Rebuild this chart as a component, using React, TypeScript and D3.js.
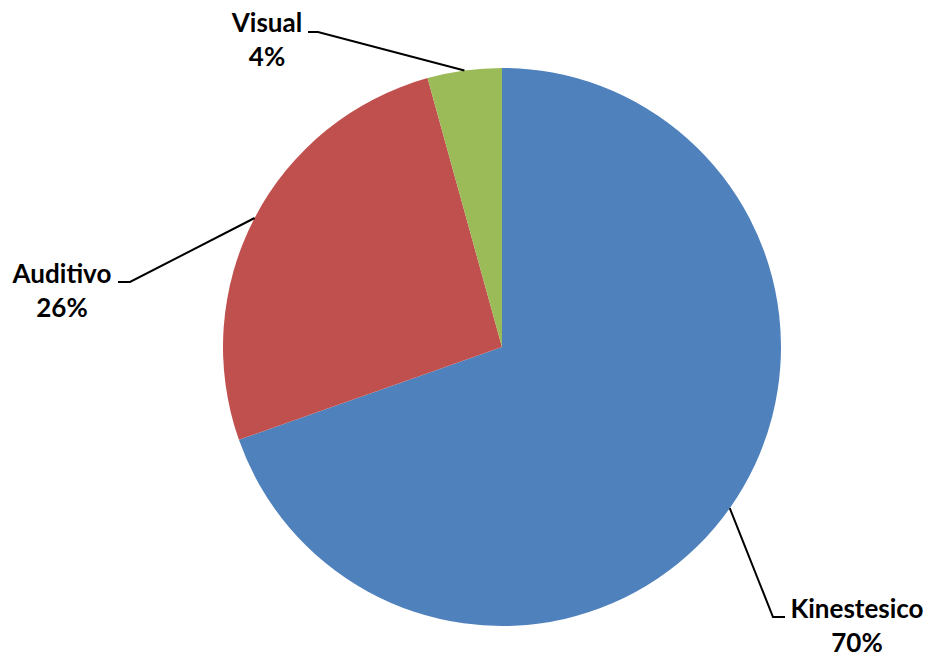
import React from "react";
import * as d3 from "d3";

const categories = ["Kinestesico", "Auditivo", "Visual"];
const values = [69.6, 26.1, 4.3];
const percentLabels = ["70%", "26%", "4%"];
const colors = ["#4F81BD", "#C0504D", "#9BBB59"];

// layout: label anchor (text center x, first baseline y) and elbow points
const labelLayout = [
  { tx: 857, ty: 618, elbow: [773, 617], end: [785, 617] },
  { tx: 62, ty: 283, elbow: [130, 282], end: [118, 282] },
  { tx: 267, ty: 32, elbow: [318, 32], end: [308, 32] },
];

const W = 930;
const H = 662;
const cx = 502;
const cy = 347;
const R = 279;

export default function App() {
  const pie = d3.pie<number>().sort(null).startAngle(0).endAngle(2 * Math.PI);
  const arcs = pie(values);
  const arc = d3.arc<d3.PieArcDatum<number>>().innerRadius(0).outerRadius(R);
  return (
    <svg width={W} height={H} style={{ position: "absolute", left: 0, top: 0, background: "#fff" }}>
      <g transform={`translate(${cx},${cy})`}>
        {arcs.map((a, i) => (
          <path key={i} d={arc(a) || ""} fill={colors[i]} />
        ))}
      </g>
      {arcs.map((a, i) => {
        const mid = (a.startAngle + a.endAngle) / 2;
        const sx = cx + R * Math.sin(mid);
        const sy = cy - R * Math.cos(mid);
        const L = labelLayout[i];
        return (
          <g key={i}>
            <polyline
              points={`${sx},${sy} ${L.elbow[0]},${L.elbow[1]} ${L.end[0]},${L.end[1]}`}
              fill="none"
              stroke="#000"
              strokeWidth={2}
            />
            <text
              x={L.tx}
              y={L.ty}
              textAnchor="middle"
              fontFamily="Lato, 'Open Sans', sans-serif"
              fontWeight="bold"
              fontSize={26}
              fill="#000"
            >
              {categories[i]}
            </text>
            <text
              x={L.tx}
              y={L.ty + 34}
              textAnchor="middle"
              fontFamily="Lato, 'Open Sans', sans-serif"
              fontWeight="bold"
              fontSize={26}
              fill="#000"
            >
              {percentLabels[i]}
            </text>
          </g>
        );
      })}
    </svg>
  );
}
